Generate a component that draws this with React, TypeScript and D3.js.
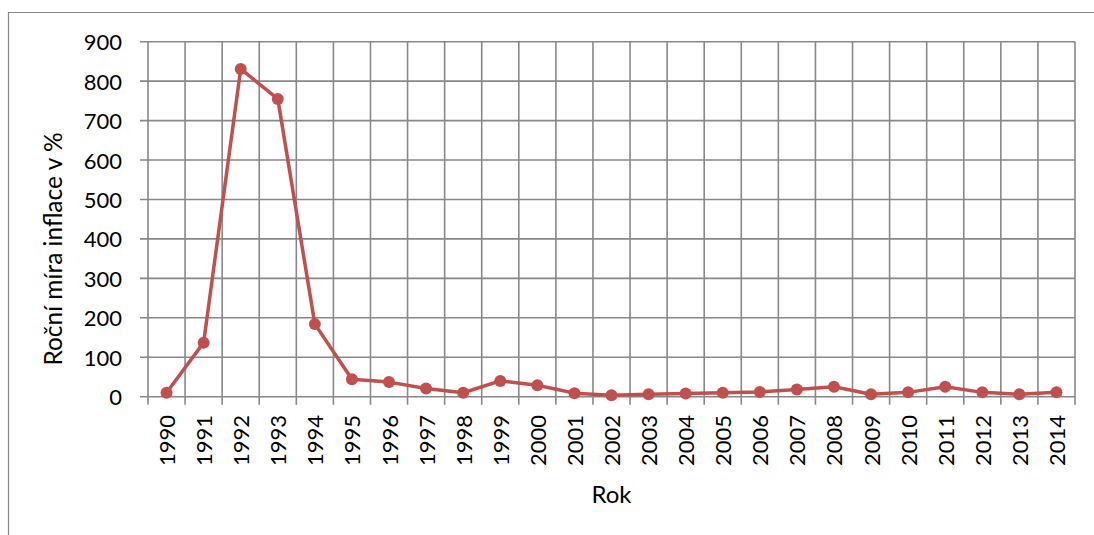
import React from "react";
import * as d3 from "d3";

const years = [
  "1990","1991","1992","1993","1994","1995","1996","1997","1998","1999",
  "2000","2001","2002","2003","2004","2005","2006","2007","2008","2009",
  "2010","2011","2012","2013","2014",
];
const inflation = [
  10, 137, 831, 755, 184, 44, 37, 21, 10, 40,
  29, 9, 3.5, 6, 8, 10, 12, 18, 25, 6,
  11, 25, 11, 6, 11,
];
const yTicks = [0, 100, 200, 300, 400, 500, 600, 700, 800, 900];
const yTitle = "Roční míra inflace v %";
const xTitle = "Rok";

const W = 1094;
const H = 535;
const FONT = "Lato, 'Open Sans', sans-serif";

export default function App() {
  const left = 148, right = 1075, top = 41.7, bottom = 396.7;
  const x = d3.scaleBand<string>().domain(years).range([left, right]);
  const y = d3.scaleLinear().domain([0, 900]).range([bottom, top]);
  const line = d3
    .line<number>()
    .x((_, i) => (x(years[i]) as number) + x.bandwidth() / 2)
    .y((d) => y(d));
  const grid = "#888888";
  const red = "#C0504D";
  const boundaries = years.map((yr) => x(yr) as number).concat([right]);

  return (
    <svg
      width={W}
      height={H}
      style={{ position: "absolute", left: 0, top: 0, background: "#fff" }}
      fontFamily={FONT}
    >
      <path d={`M8.5,${H} V12.5 H${W}`} fill="none" stroke="#888" strokeWidth={1.2} />
      {yTicks.map((t) => (
        <line key={"h" + t} x1={140} x2={right} y1={y(t)} y2={y(t)} stroke={grid} strokeWidth={1.6} />
      ))}
      {boundaries.map((bx, i) => (
        <line key={"v" + i} x1={bx} x2={bx} y1={top} y2={bottom + 8} stroke={grid} strokeWidth={1.6} />
      ))}
      {yTicks.map((t) => (
        <text key={"yl" + t} x={122} y={y(t)} textAnchor="end" dominantBaseline="central" fontSize={22} fill="#000">
          {t}
        </text>
      ))}
      {years.map((yr) => {
        const cx = (x(yr) as number) + x.bandwidth() / 2;
        return (
          <text
            key={"xl" + yr}
            transform={`translate(${cx},${415}) rotate(-90)`}
            textAnchor="end"
            dominantBaseline="central"
            fontSize={22}
            fill="#000"
          >
            {yr}
          </text>
        );
      })}
      <path d={line(inflation) || ""} fill="none" stroke={red} strokeWidth={3.5} strokeLinejoin="round" />
      {inflation.map((v, i) => (
        <circle
          key={"p" + i}
          cx={(x(years[i]) as number) + x.bandwidth() / 2}
          cy={y(v)}
          r={6}
          fill={red}
        />
      ))}
      <text x={611.5} y={493} textAnchor="middle" dominantBaseline="central" fontSize={24} fill="#000">
        {xTitle}
      </text>
      <text
        transform={`translate(52,249) rotate(-90)`}
        textAnchor="middle"
        dominantBaseline="central"
        fontSize={24.5}
        fill="#000"
      >
        {yTitle}
      </text>
    </svg>
  );
}
